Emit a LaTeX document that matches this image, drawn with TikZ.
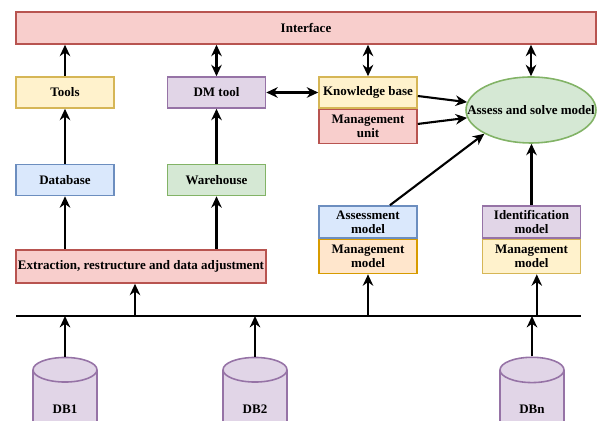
\documentclass[tikz,border=0pt]{standalone}
\usepackage{fontspec}
\setmainfont{Liberation Serif}
\usetikzlibrary{arrows.meta, shapes.geometric}

\definecolor{redfill}{HTML}{F8CECC}\definecolor{redline}{HTML}{B85450}
\definecolor{yelfill}{HTML}{FFF2CC}\definecolor{yelline}{HTML}{D6B656}
\definecolor{purfill}{HTML}{E1D5E7}\definecolor{purline}{HTML}{9673A6}
\definecolor{blufill}{HTML}{DAE8FC}\definecolor{bluline}{HTML}{6C8EBF}
\definecolor{grnfill}{HTML}{D5E8D4}\definecolor{grnline}{HTML}{82B366}
\definecolor{orgfill}{HTML}{FFE6CC}\definecolor{orgline}{HTML}{D79B00}

\begin{document}
\begin{tikzpicture}[x=0.02cm, y=-0.02cm,
	font=\fontsize{7.4}{7.9}\selectfont\bfseries,
	box/.style={draw, line width=0.9pt, minimum width=1.96cm, minimum height=0.62cm, inner sep=1pt, align=center},
	tallbox/.style={box, minimum height=0.68cm},
	redbox/.style={fill=redfill, draw=redline},
	yelbox/.style={fill=yelfill, draw=yelline},
	purbox/.style={fill=purfill, draw=purline},
	blubox/.style={fill=blufill, draw=bluline},
	grnbox/.style={fill=grnfill, draw=grnline},
	orgbox/.style={fill=orgfill, draw=orgline},
	dbase/.style={cylinder, shape border rotate=90, aspect=1.0, draw=purline, fill=purfill, line width=0.9pt, minimum width=1.28cm, minimum height=1.8cm, inner sep=0pt},
	arr/.style={line width=1.2pt, -{Stealth[length=6.5pt, width=6pt]}},
	darr/.style={line width=1.2pt, {Stealth[length=6.5pt, width=6pt]}-{Stealth[length=6.5pt, width=6pt]}}]
	\useasboundingbox (0,0) rectangle (602,421);

	% top row
	\node[box, redbox, minimum width=11.6cm, minimum height=0.64cm] (iface) at (306,28) {Interface};
	\node[box, yelbox] (tools) at (65,92.5) {Tools};
	\node[box, purbox] (dmtool) at (216.5,92.5) {DM tool};
	\node[box, yelbox] (kbase) at (368,92.5) {Knowledge base};
	\node[tallbox, redbox, anchor=north] (munit) at (kbase.south) {Management\\unit};
	\node[ellipse, draw=grnline, fill=grnfill, line width=0.9pt, minimum width=2.6cm, minimum height=1.32cm, inner xsep=-0.6cm, inner ysep=0pt] (solve) at (531,110) {Assess and solve model};

	% middle
	\node[box, blubox] (dbase) at (65,180) {Database};
	\node[box, grnbox] (whouse) at (216.5,180) {Warehouse};
	\node[tallbox, blubox, minimum height=0.64cm] (assess) at (368,222) {Assessment\\model};
	\node[tallbox, orgbox, anchor=north] (mmodA) at (assess.south) {Management\\model};
	\node[tallbox, purbox, minimum height=0.64cm] (ident) at (531.5,222) {Identification\\model};
	\node[tallbox, yelbox, anchor=north] (mmodB) at (ident.south) {Management\\model};
	\node[box, redbox, minimum width=5cm, minimum height=0.66cm] (extract) at (141,266.5) {Extraction, restructure and data adjustment};

	% bus and databases
	\coordinate (busL) at (16,316);
	\coordinate (busR) at (581,316);
	\coordinate (tapE) at (135,316);
	\node[dbase] (db1) at (65,409) {DB1};
	\node[dbase] (db2) at (255,409) {DB2};
	\node[dbase] (dbn) at (532,409) {DBn};

	\draw[line width=1.2pt] (busL) -- (busR);
	\draw[arr] (db1.north) -- (db1.north |- busL);
	\draw[arr] (db2.north) -- (db2.north |- busL);
	\draw[arr] (dbn.north) -- (dbn.north |- busL);
	\draw[arr] (tapE) -- (tapE |- extract.south);
	\draw[arr] (mmodA.south |- busL) -- (mmodA.south);
	\draw[arr] ([xshift=3pt]mmodB.south |- busL) -- ([xshift=3pt]mmodB.south);

	\draw[arr] (extract.north -| dbase) -- (dbase.south);
	\draw[arr] (extract.north -| whouse) -- (whouse.south);
	\draw[arr] (dbase) -- (tools);
	\draw[arr] (whouse) -- (dmtool);
	\draw[arr] (tools.north) -- (tools.north |- iface.south);
	\draw[darr] (dmtool.north) -- (dmtool.north |- iface.south);
	\draw[darr] (kbase.north) -- (kbase.north |- iface.south);
	\draw[darr] (solve.north) -- (solve.north |- iface.south);
	\draw[darr] (dmtool) -- (kbase);
	\draw[arr] ([yshift=-2pt]kbase.east) -- (solve.173);
	\draw[arr] ([yshift=1.5pt]munit.east) -- (solve.187);
	\draw[arr] ([xshift=12.5pt]assess.north) -- (solve.207);
	\draw[arr] (ident.north) -- (ident.north |- solve.south);
\end{tikzpicture}
\end{document}
